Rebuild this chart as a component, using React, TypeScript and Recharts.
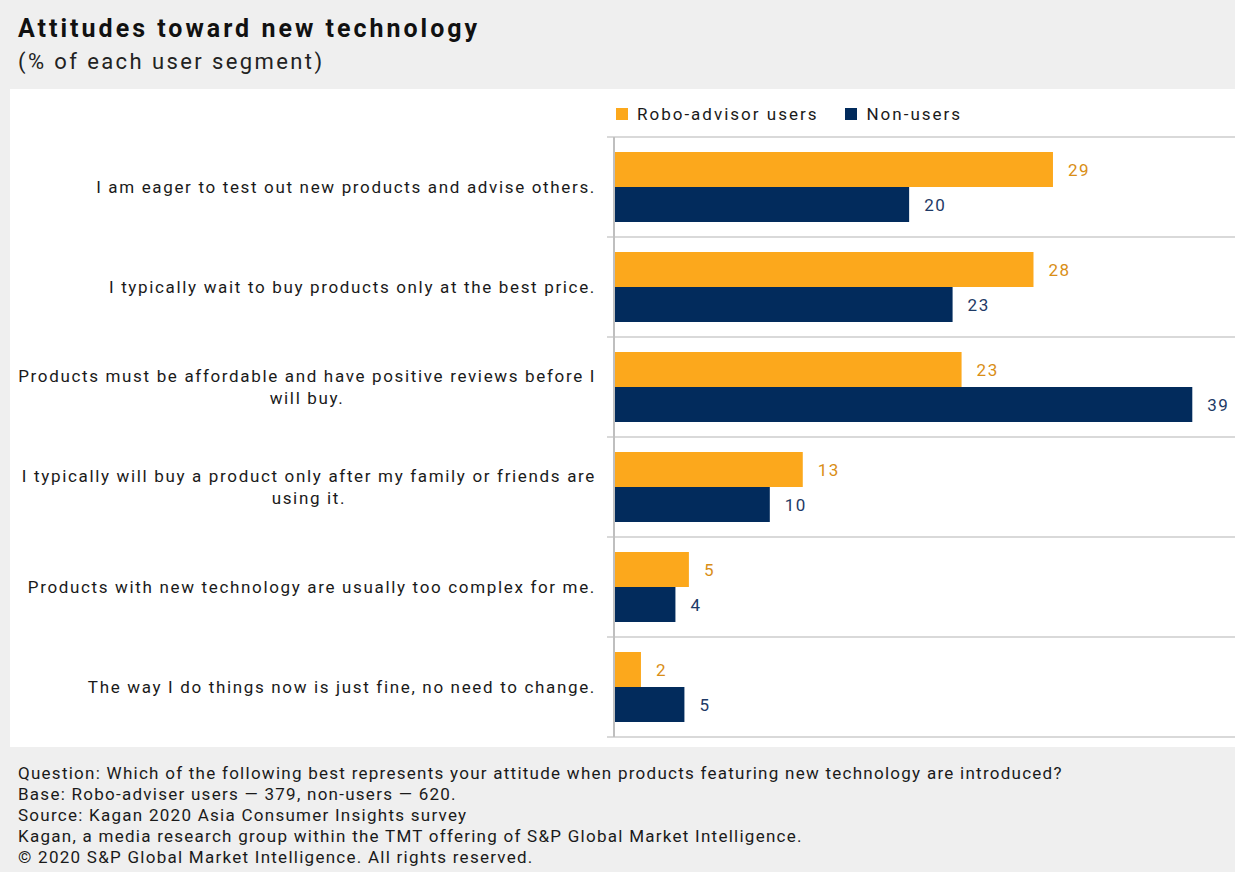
import React from "react";
import { BarChart, Bar, XAxis, YAxis, CartesianGrid, LabelList, Legend } from "recharts";

const categories = [
  "I am eager to test out new products and advise others.",
  "I typically wait to buy products only at the best price.",
  "Products must be affordable and have positive reviews before I\nwill buy.",
  "I typically will buy a product only after my family or friends are\nusing it.",
  "Products with new technology are usually too complex for me.",
  "The way I do things now is just fine, no need to change.",
];
// bar lengths (labels shown rounded)
const roboUsers = [29.3, 28.0, 23.2, 12.6, 5.0, 1.8];
const nonUsers = [19.7, 22.6, 38.6, 10.4, 4.1, 4.7];
const seriesNames = ["Robo-advisor users", "Non-users"];
const footerLines = [
  "Question: Which of the following best represents your attitude when products featuring new technology are introduced?",
  "Base: Robo-adviser users \u2014 379, non-users \u2014 620.",
  "Source: Kagan 2020 Asia Consumer Insights survey",
  "Kagan, a media research group within the TMT offering of S&P Global Market Intelligence.",
  "\u00a9 2020 S&P Global Market Intelligence. All rights reserved.",
];

const ORANGE = "#FCA81C";
const NAVY = "#022B5C";
const ORANGE_TEXT = "#D98E16";
const NAVY_TEXT = "#1E3A66";
const FONT = "Roboto, 'Noto Sans', sans-serif";

const data = categories.map((c, i) => ({ cat: c, robo: roboUsers[i], non: nonUsers[i] }));
const fmt = (v: any) => String(Math.round(Number(v)));

const CatTick = (props: any) => {
  const { x, y, payload } = props;
  const lines = String(payload.value).split("\n");
  return (
    <foreignObject x={x - 600} y={y - 30} width={590} height={60}>
      <div
        style={{
          display: "flex",
          justifyContent: "flex-end",
          alignItems: "center",
          height: "100%",
          fontFamily: FONT,
          fontSize: 17,
          letterSpacing: 1.66,
          color: "#1a1a1a",
          lineHeight: "22px",
        }}
      >
        <div style={{ textAlign: "center", whiteSpace: "nowrap" }}>
          {lines.map((l, i) => (
            <div key={i}>{l}</div>
          ))}
        </div>
      </div>
    </foreignObject>
  );
};

const LegendContent = () => (
  <div style={{ display: "flex", fontFamily: FONT, fontSize: 17, letterSpacing: 2, color: "#1a1a1a" }}>
    {seriesNames.map((n, i) => (
      <div key={n} style={{ display: "flex", alignItems: "center", marginRight: 27 }}>
        <span
          style={{
            display: "inline-block",
            width: 12,
            height: 12,
            background: i === 0 ? ORANGE : NAVY,
            marginRight: 9,
          }}
        />
        <span>{n}</span>
      </div>
    ))}
  </div>
);

export default function App() {
  return (
    <div
      style={{
        position: "absolute",
        left: 0,
        top: 0,
        width: 1235,
        height: 872,
        background: "#EFEFEF",
        fontFamily: FONT,
        overflow: "hidden",
      }}
    >
      <div
        style={{
          position: "absolute",
          left: 18,
          top: 14,
          fontSize: 25,
          lineHeight: "30px",
          letterSpacing: 3.0,
          fontWeight: 700,
          color: "#111",
          whiteSpace: "nowrap",
        }}
      >
        Attitudes toward new technology
      </div>
      <div
        style={{
          position: "absolute",
          left: 18,
          top: 49,
          fontSize: 22,
          lineHeight: "26px",
          letterSpacing: 2.4,
          color: "#222",
          whiteSpace: "nowrap",
        }}
      >
        (% of each user segment)
      </div>
      <div style={{ position: "absolute", left: 10, top: 89, width: 1225, height: 658, background: "#FFFFFF" }}>
        <BarChart
          width={1225}
          height={658}
          data={data}
          layout="vertical"
          margin={{ top: 48, right: 0, bottom: 10, left: 0 }}
          barSize={35}
          barGap={0}
        >
          <CartesianGrid
            vertical={false}
            stroke="#D9D9D9"
            strokeWidth={2}
            x={597}
            width={628}
            horizontalCoordinatesGenerator={({ offset }: any) =>
              categories
                .map((_, i) => offset.top + (i * offset.height) / categories.length)
                .concat([offset.top + offset.height])
            }
          />
          <XAxis type="number" domain={[0, 41.45]} hide />
          <YAxis
            type="category"
            dataKey="cat"
            width={604}
            axisLine={{ stroke: "#BFBFBF", strokeWidth: 2 }}
            tickLine={false}
            tick={<CatTick />}
            interval={0}
          />
          <Legend
            layout="horizontal"
            verticalAlign="middle"
            content={<LegendContent />}
            wrapperStyle={{ top: 15, left: 606, width: 560, height: 22 }}
          />
          <Bar dataKey="robo" name={seriesNames[0]} fill={ORANGE} isAnimationActive={false}>
            <LabelList
              dataKey="robo"
              position="right"
              offset={15}
              formatter={fmt}
              fill={ORANGE_TEXT}
              fontSize={17}
              letterSpacing={1.5}
              fontFamily={FONT}
            />
          </Bar>
          <Bar dataKey="non" name={seriesNames[1]} fill={NAVY} isAnimationActive={false}>
            <LabelList
              dataKey="non"
              position="right"
              offset={15}
              formatter={fmt}
              fill={NAVY_TEXT}
              fontSize={17}
              letterSpacing={1.5}
              fontFamily={FONT}
            />
          </Bar>
        </BarChart>
      </div>
      <div
        style={{
          position: "absolute",
          left: 18,
          top: 763,
          fontSize: 17,
          letterSpacing: 1.26,
          lineHeight: "21px",
          color: "#1a1a1a",
          whiteSpace: "nowrap",
        }}
      >
        {footerLines.map((l, i) => (
          <div key={i}>{l}</div>
        ))}
      </div>
    </div>
  );
}
